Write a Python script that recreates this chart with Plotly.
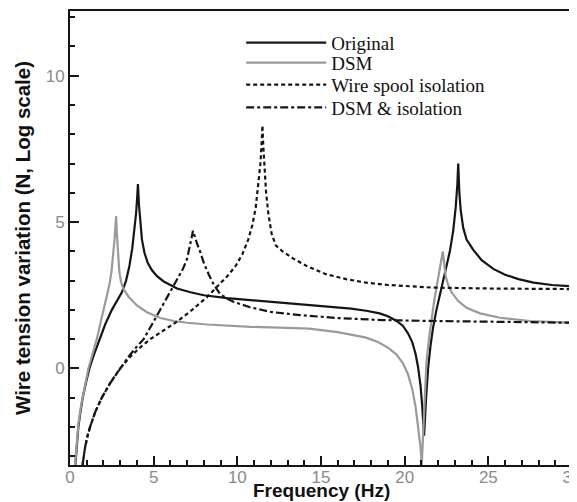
import plotly.graph_objects as go

# ---- data (Frequency in Hz, tension variation on log scale) ----
orig_x = [0.32, 0.4, 0.5, 0.62, 0.76, 0.95, 1.16, 1.45, 1.76, 2.1, 2.5, 2.8, 3.1, 3.35, 3.55, 3.72,
          3.85, 3.95, 4.02, 4.06, 4.12, 4.2, 4.3, 4.45, 4.65, 4.9, 5.2, 5.6, 6.4, 7.2, 8.0, 9.4,
          10.8, 12.3, 13.7, 15.5, 16.8, 17.7, 18.5, 19.0, 19.5, 19.9, 20.2, 20.45, 20.65, 20.8,
          20.95, 21.05, 21.16, 21.28, 21.4, 21.55, 21.7, 21.9, 22.1, 22.3, 22.5, 22.7, 22.9, 23.05,
          23.15, 23.2, 23.27, 23.35, 23.5, 23.7, 24.1, 24.6, 25.3, 26.0, 26.8, 27.7, 28.8, 30.0]
orig_y = [-3.3, -2.6, -2.0, -1.5, -1.0, -0.5, 0.0, 0.5, 1.0, 1.5, 2.0, 2.3, 2.6, 3.0, 3.5, 4.1,
          4.7, 5.3, 5.9, 6.3, 5.6, 4.9, 4.4, 3.95, 3.6, 3.35, 3.15, 2.97, 2.73, 2.6, 2.5, 2.4,
          2.33, 2.26, 2.2, 2.12, 2.04, 1.97, 1.88, 1.78, 1.63, 1.45, 1.2, 0.9, 0.5, 0.05,
          -0.6, -1.3, -2.3, -1.0, 0.0, 0.8, 1.4, 2.0, 2.5, 3.0, 3.5, 4.0, 4.7, 5.5,
          6.3, 7.0, 6.0, 5.4, 4.8, 4.4, 4.05, 3.7, 3.4, 3.2, 3.05, 2.93, 2.85, 2.8]

dsm_x = [0.3, 0.4, 0.5, 0.65, 0.8, 0.95, 1.1, 1.35, 1.6, 1.8, 2.0, 2.2, 2.35, 2.48, 2.58, 2.66,
         2.72, 2.76, 2.8, 2.86, 2.95, 3.05, 3.2, 3.5, 4.0, 4.6, 5.4, 6.2, 7.0, 8.2, 9.4, 10.8,
         12.5, 14.3, 16.0, 17.0, 17.7, 18.4, 19.0, 19.5, 19.9, 20.2, 20.45, 20.65, 20.82, 20.95,
         21.02, 21.1, 21.2, 21.3, 21.45, 21.6, 21.75, 21.9, 22.05, 22.18, 22.28, 22.36, 22.45,
         22.6, 22.8, 23.2, 23.7, 24.5, 25.7, 27.5, 30.0]
dsm_y = [-3.3, -2.5, -1.9, -1.3, -0.9, -0.45, 0.0, 0.5, 1.0, 1.5, 2.0, 2.45, 2.85, 3.3, 3.8, 4.4,
         4.9, 5.2, 4.6, 3.9, 3.3, 2.95, 2.7, 2.45, 2.15, 1.92, 1.72, 1.62, 1.56, 1.5, 1.46, 1.42,
         1.39, 1.36, 1.24, 1.14, 1.05, 0.9, 0.71, 0.48, 0.17, -0.2, -0.7, -1.3, -2.0, -2.7,
         -3.3, -2.3, -1.0, 0.2, 1.0, 1.7, 2.25, 2.75, 3.2, 3.6, 4.0, 3.6, 3.15,
         2.85, 2.6, 2.3, 2.07, 1.88, 1.73, 1.62, 1.56]

spool_x = [0.75, 0.9, 1.05, 1.2, 1.5, 1.9, 2.4, 3.0, 3.6, 4.2, 4.8, 5.6, 6.4, 7.3, 8.2, 8.8, 9.4,
           9.9, 10.3, 10.65, 10.9, 11.1, 11.25, 11.38, 11.46, 11.5, 11.55, 11.62, 11.72, 11.85,
           12.05, 12.3, 12.7, 13.35, 14.2, 15.3, 16.5, 17.7, 19.0, 20.5, 21.7, 25.0, 30.0]
spool_y = [-3.3, -2.7, -2.3, -2.0, -1.5, -1.0, -0.5, 0.0, 0.4, 0.72, 1.0, 1.3, 1.6, 2.0, 2.44,
           2.8, 3.15, 3.5, 3.9, 4.4, 4.9, 5.5, 6.2, 7.0, 7.8, 8.3, 7.6, 6.8, 6.0, 5.3,
           4.6, 4.2, 4.0, 3.75, 3.48, 3.22, 3.05, 2.93, 2.85, 2.8, 2.76, 2.73, 2.71]

both_x = [0.75, 0.9, 1.05, 1.2, 1.5, 1.9, 2.4, 3.0, 3.5, 4.0, 4.4, 4.9, 5.4, 5.9, 6.4, 6.75, 7.0,
          7.15, 7.28, 7.35, 7.45, 7.6, 7.77, 8.0, 8.3, 8.6, 8.97, 9.4, 9.8, 10.76, 12.0, 13.75,
          16.0, 18.7, 21.7, 25.0, 30.0]
both_y = [-3.3, -2.7, -2.3, -2.0, -1.5, -1.0, -0.5, 0.0, 0.4, 0.75, 1.0, 1.5, 2.0, 2.5, 3.0, 3.4,
          3.75, 4.1, 4.5, 4.7, 4.5, 4.25, 4.0, 3.6, 3.2, 2.85, 2.54, 2.38, 2.27, 2.09, 1.93, 1.82,
          1.72, 1.65, 1.62, 1.59, 1.56]

names = ["Original", "DSM", "Wire spool isolation", "DSM &amp; isolation"]
x_ticks = [0, 5, 10, 15, 20, 25, 30]
y_ticks = [0, 5, 10]

BLACK = "#151515"
GRAY = "#9a9a9a"
W = 2.2

fig = go.Figure()
fig.add_trace(go.Scatter(x=orig_x, y=orig_y, mode="lines", name=names[0], legend="legend",
                         line=dict(color=BLACK, width=W)))
fig.add_trace(go.Scatter(x=dsm_x, y=dsm_y, mode="lines", name=names[1], legend="legend2",
                         line=dict(color=GRAY, width=W)))
fig.add_trace(go.Scatter(x=spool_x, y=spool_y, mode="lines", name=names[2], legend="legend3",
                         line=dict(color=BLACK, width=W, dash="4px,3px")))
fig.add_trace(go.Scatter(x=both_x, y=both_y, mode="lines", name=names[3], legend="legend4",
                         line=dict(color=BLACK, width=W, dash="8px,3px,3px,3px")))

tickfont = dict(family="Liberation Sans, Arial, sans-serif", size=17, color="#8a8a8a")
titlefont = dict(family="Liberation Sans, Arial, sans-serif", size=20.5, color="#111111")
xtitlefont = dict(family="Liberation Sans, Arial, sans-serif", size=19, color="#111111")
legfont = dict(family="Liberation Serif, Times New Roman, serif", size=19, color="#111111")

# plot area: figure px 62..564 (x), 1..457 (y); the page adds an 8 px body margin
PLOT_H = 456
PLOT_BOTTOM_PAGE = 465

def leg(ypix):
    return dict(x=0.341, y=(PLOT_BOTTOM_PAGE - ypix) / PLOT_H, xanchor="left", yanchor="middle",
                bgcolor="rgba(0,0,0,0)", borderwidth=0, font=legfont, itemwidth=80)

fig.update_layout(
    width=577, height=502,
    margin=dict(l=62, r=13, t=1, b=45),
    paper_bgcolor="white", plot_bgcolor="white",
    showlegend=True,
    legend=leg(41), legend2=leg(61), legend3=leg(83), legend4=leg(106),
    xaxis=dict(range=[0, 30], tickvals=x_ticks, ticktext=[str(v) for v in x_ticks],
               ticks="inside", ticklen=9, tickwidth=2, tickcolor=BLACK,
               minor=dict(dtick=1, ticks="inside", ticklen=5, tickwidth=1.5, tickcolor=BLACK),
               showline=True, linecolor=BLACK, linewidth=2, mirror=True,
               showgrid=False, zeroline=False, tickfont=tickfont, ticklabeloverflow="allow",
               ticklabelstandoff=-4),
    yaxis=dict(range=[-3.3, 12.21], tickvals=y_ticks, ticktext=[str(v) for v in y_ticks],
               ticks="inside", ticklen=9, tickwidth=2, tickcolor=BLACK,
               minor=dict(dtick=1, ticks="inside", ticklen=5, tickwidth=1.5, tickcolor=BLACK),
               showline=True, linecolor=BLACK, linewidth=2, mirror=True,
               showgrid=False, zeroline=False, tickfont=tickfont,
               title=dict(text="<b>Wire tension variation (N, Log scale)</b>", font=titlefont,
                          standoff=10)),
    annotations=[dict(text="<b>Frequency (Hz)</b>", xref="paper", yref="paper",
                      x=0.5, y=-(491 - PLOT_BOTTOM_PAGE) / PLOT_H, xanchor="center", yanchor="middle",
                      showarrow=False, font=xtitlefont)],
)

fig.write_html("out.html")
